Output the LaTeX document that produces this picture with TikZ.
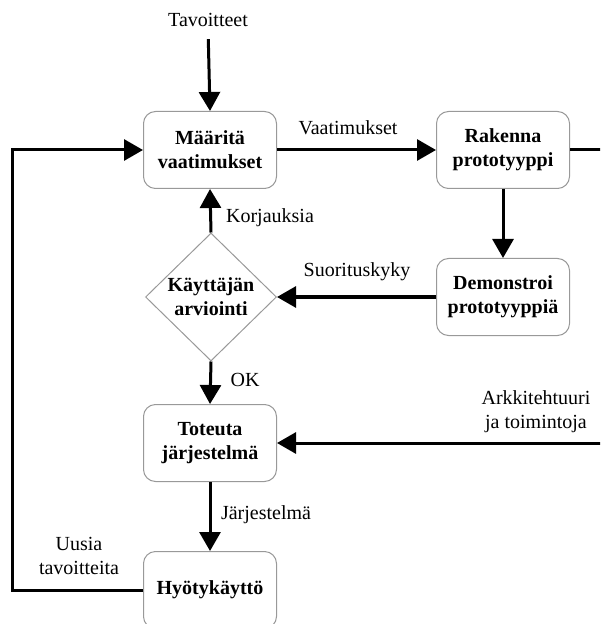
\documentclass[tikz,border=0pt]{standalone}
\usepackage{fontspec}
\setmainfont{Liberation Serif}
\usetikzlibrary{shapes.geometric,arrows.meta}
\tikzset{
  stepbox/.style = {draw=black!40, rounded corners=6pt, fill=white, line width=0.5pt, font=\bfseries, align=center, minimum width=66.5pt, minimum height=38.5pt, inner sep=2pt},
  decide/.style  = {diamond, draw=black!40, fill=white, line width=0.5pt, font=\bfseries, align=center, minimum width=65.5pt, minimum height=64pt, inner sep=0pt},
  flow/.style    = {-{Triangle[length=9.5pt,width=10.5pt]}, line width=1.5pt},
  wire/.style    = {line width=1.5pt},
  lbl/.style     = {align=center, inner sep=0pt},
}

\begin{document}
\begin{tikzpicture}[x=0.5pt,y=-0.5pt]
  \useasboundingbox (0,0) rectangle (600,624);
  \clip (0,0) rectangle (600,624);

  % ----- steps -----
  \node[lbl] (tav) at (208,20) {Tavoitteet};
  \node[stepbox] (maarita) at (210,150) {Määritä\\vaatimukset};
  \node[stepbox] (rakenna) at (503,150) {Rakenna\\prototyyppi};
  \node[stepbox] (demo) at (503,297) {Demonstroi\\prototyyppiä};
  \node[decide] (arvio) at (211,297) {Käyttäjän\\arviointi};
  \node[stepbox] (toteuta) at (210,443) {Toteuta\\järjestelmä};
  \node[stepbox] (hyoty) at (210,590) {Hyötykäyttö};

  % ----- free ends -----
  \coordinate (outr) at (610,150);
  \coordinate (inr) at (610,443);
  \coordinate (loop) at (12,590);

  % ----- connectors -----
  \draw[flow, shorten <=6pt] (tav.south) -- (maarita.north);
  \draw[flow] (maarita.east) -- (rakenna.west);
  \draw[wire] (rakenna.east) -- (outr);
  \draw[flow] (rakenna.south) -- (demo.north);
  \draw[flow] (demo.west) -- (arvio.east);
  \draw[flow] (arvio.north) -- (maarita.south);
  \draw[flow] (arvio.south) -- (toteuta.north);
  \draw[flow] (inr) -- (toteuta.east);
  \draw[flow] (toteuta.south) -- (hyoty.north);
  \draw[flow] (hyoty.west) -- (loop) |- (maarita.west);

  % ----- labels -----
  \node[lbl] (vaat) at (348,128) {Vaatimukset};
  \node[lbl] (korj) at (270,218) {Korjauksia};
  \node[lbl] (suor) at (357,272) {Suorituskyky};
  \node[lbl] (ok) at (245,380) {OK};
  \node[lbl] (arkk) at (536,412) {Arkkitehtuuri\\ja toimintoja};
  \node[lbl] (jarj) at (266,515) {Järjestelmä};
  \node[lbl] (uusia) at (79,556) {Uusia\\tavoitteita};
\end{tikzpicture}
\end{document}
